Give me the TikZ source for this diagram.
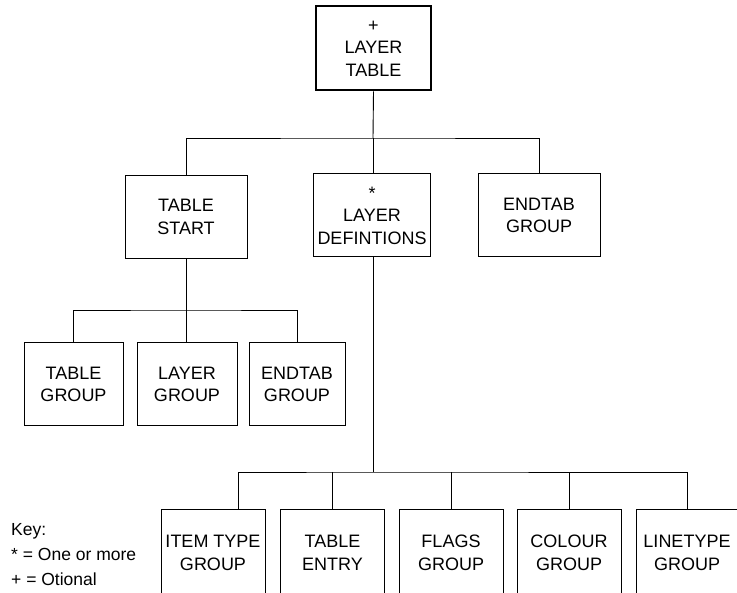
\documentclass[tikz,border=0pt]{standalone}
\usepackage{fontspec}
\setmainfont{Liberation Sans}
\usetikzlibrary{positioning,calc}
\tikzset{
  box/.style={draw,line width=1pt,align=center,inner sep=0pt,
    minimum width=#1,minimum height=83pt,
    font=\fontsize{18}{22.5}\selectfont},
  box/.default=120pt,
  link/.style={line width=0.9pt}
}

\begin{document}
\begin{tikzpicture}[x=1pt,y=-1pt]
    \useasboundingbox (0,0) rectangle (737,593);

    % Top
    \node[box=115pt,line width=2pt,minimum height=84pt] (layertable) at (373.5,48.5) {+\\LAYER\\TABLE};

    % Middle row
    \node[box=122pt] (tablestart) at (186,217) {TABLE\\START};
    \node[box=117pt] (layerdefs) at (372,215.5) {*\\LAYER\\DEFINTIONS};
    \node[box=122pt] (endtab) at (539,215.5) {ENDTAB\\GROUP};

    % Under table start
    \node[box=99pt] (tablegroup) at (73.5,384.5) {TABLE\\GROUP};
    \node[box=100pt] (layergroup) at (187,384.5) {LAYER\\GROUP};
    \node[box=96pt] (endtabgroup) at (297,384.5) {ENDTAB\\GROUP};

    % Under layer definitions
    \node[box=104pt,minimum height=86pt] (itemtype) at (213,553) {ITEM TYPE\\GROUP};
    \node[box=104pt,minimum height=86pt] (tableentry) at (332.5,553) {TABLE\\ENTRY};
    \node[box=104pt,minimum height=86pt] (flags) at (451,553) {FLAGS\\GROUP};
    \node[box=104pt,minimum height=86pt] (colour) at (569,553) {COLOUR\\GROUP};
    \node[box=101pt,minimum height=86pt] (linetype) at (687,553) {LINETYPE\\GROUP};

    % Links
    \coordinate (busA) at (373,138);
    \draw[link] (layertable.south) -- (busA);
    \draw[link] (tablestart.north) |- (busA) -| (endtab.north);
    \draw[link] (busA) -- (layerdefs.north -| busA);

    \coordinate (busB) at (186.5,310);
    \draw[link] (tablestart.south) -- (tablestart.south |- layergroup.north);
    \draw[link] (tablegroup.north) |- (busB) -| (endtabgroup.north);

    \coordinate (busC) at (373,472);
    \draw[link] (layerdefs.south -| busC) -- (busC);
    \draw[link] ($(itemtype.north)+(25,0)$) |- (busC) -| (linetype.north);
    \foreach \b in {tableentry,flags,colour}
        \draw[link] (\b.north) -- (\b.north |- busC);

    % Key
    \node[font=\fontsize{17.5}{25}\selectfont,align=left,anchor=north west,inner sep=0pt] (key) at (11,523)
        {Key:\\* = One or more\\+ = Otional};
\end{tikzpicture}
\end{document}
